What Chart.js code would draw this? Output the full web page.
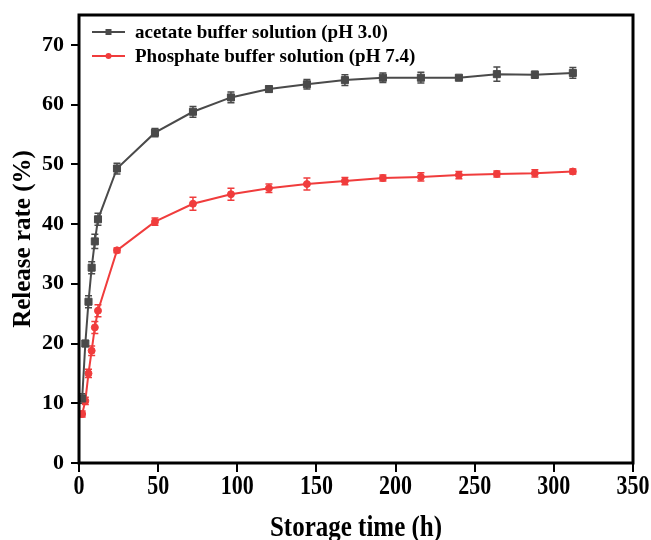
<!DOCTYPE html>
<html>
<head>
<meta charset="utf-8">
<script src="https://cdn.jsdelivr.net/npm/chart.js@4"></script>
<style>
  html, body { margin: 0; padding: 0; background: #fff; }
  #wrap { width: 651px; height: 540px; }
</style>
</head>
<body>
<div id="wrap"><canvas id="myChart" width="651" height="540"></canvas></div>
<script>
const times = [2, 4, 6, 8, 10, 12, 24, 48, 72, 96, 120, 144, 168, 192, 216, 240, 264, 288, 312];
const acetate = [10.8, 20.0, 27.0, 32.7, 37.1, 40.8, 49.3, 55.3, 58.8, 61.2, 62.6, 63.4, 64.1, 64.5, 64.5, 64.5, 65.1, 65.0, 65.3];
const acetateErr = [0.8, 0.5, 1.0, 1.0, 1.2, 1.0, 0.9, 0.7, 0.9, 0.9, 0.5, 0.8, 0.9, 0.8, 0.9, 0.3, 1.2, 0.6, 0.9];
const phosphate = [8.2, 10.4, 15.0, 18.8, 22.7, 25.5, 35.6, 40.4, 43.4, 45.0, 46.0, 46.7, 47.2, 47.7, 47.9, 48.2, 48.4, 48.5, 48.8];
const phosphateErr = [0.5, 0.6, 0.7, 0.8, 1.0, 1.0, 0.4, 0.6, 1.1, 1.0, 0.7, 1.0, 0.6, 0.5, 0.7, 0.6, 0.5, 0.6, 0.4];
const seriesNames = ['acetate buffer solution (pH 3.0)', 'Phosphate buffer solution (pH 7.4)'];
const xTicks = [0, 50, 100, 150, 200, 250, 300, 350];
const yTicks = [0, 10, 20, 30, 40, 50, 60, 70];
const xTitle = 'Storage time (h)';
const yTitle = 'Release rate (%)';

const black = '#4a4a4a';
const red = '#f03c3c';
const font = 'Liberation Serif';

function pts(ys) { return times.map((t, i) => ({ x: t, y: ys[i] })); }

// error bars, frame, legend and the (tall) x axis text
const extras = {
  id: 'extras',
  beforeDatasetsDraw(chart) {
    const ctx = chart.ctx, xs = chart.scales.x, ys = chart.scales.y;
    const sets = [[acetate, acetateErr, black], [phosphate, phosphateErr, red]];
    ctx.save();
    ctx.lineWidth = 1.5;
    sets.forEach(([vals, errs, col]) => {
      ctx.strokeStyle = col;
      vals.forEach((v, i) => {
        const px = xs.getPixelForValue(times[i]);
        const top = ys.getPixelForValue(v + errs[i]);
        const bot = ys.getPixelForValue(v - errs[i]);
        ctx.beginPath();
        ctx.moveTo(px, top); ctx.lineTo(px, bot);
        ctx.moveTo(px - 3.5, top); ctx.lineTo(px + 3.5, top);
        ctx.moveTo(px - 3.5, bot); ctx.lineTo(px + 3.5, bot);
        ctx.stroke();
      });
    });
    ctx.restore();
  },
  afterDraw(chart) {
    const ctx = chart.ctx, a = chart.chartArea, xs = chart.scales.x;
    ctx.save();
    ctx.strokeStyle = '#000';
    ctx.lineWidth = 3;
    ctx.strokeRect(a.left, a.top, a.right - a.left, a.bottom - a.top);

    // x tick labels + title, a bit taller than wide like the original
    ctx.fillStyle = '#000';
    ctx.textAlign = 'center';
    ctx.textBaseline = 'middle';
    ctx.font = 'bold 22px "' + font + '"';
    xTicks.forEach(v => {
      ctx.save();
      ctx.translate(xs.getPixelForValue(v), 487);
      ctx.scale(1, 1.25);
      ctx.fillText(String(v), 0, 0);
      ctx.restore();
    });
    ctx.font = 'bold 25px "' + font + '"';
    ctx.save();
    ctx.translate((a.left + a.right) / 2, 528);
    ctx.scale(1, 1.2);
    ctx.fillText(xTitle, 0, 0);
    ctx.restore();

    // legend
    const items = [[seriesNames[0], black, 'rect'], [seriesNames[1], red, 'circle']];
    ctx.font = 'bold 19px "' + font + '"';
    ctx.textAlign = 'left';
    items.forEach(([label, col, shape], i) => {
      const y = 32 + i * 24;
      ctx.strokeStyle = col;
      ctx.fillStyle = col;
      ctx.lineWidth = 2;
      ctx.beginPath();
      ctx.moveTo(92, y); ctx.lineTo(125, y);
      ctx.stroke();
      if (shape === 'rect') ctx.fillRect(105.5, y - 3, 6, 6);
      else { ctx.beginPath(); ctx.arc(108.5, y, 3, 0, Math.PI * 2); ctx.fill(); }
      ctx.fillStyle = '#000';
      ctx.fillText(label, 135, y + 1);
    });
    ctx.restore();
  }
};

const myChart = document.getElementById('myChart').getContext('2d');
const newChart = new Chart(myChart, {
  type: 'line',
  data: {
    datasets: [{
      label: seriesNames[0],
      data: pts(acetate),
      borderColor: black,
      backgroundColor: black,
      borderWidth: 2,
      pointStyle: 'rect',
      pointRadius: 5,
      pointBorderWidth: 1
    }, {
      label: seriesNames[1],
      data: pts(phosphate),
      borderColor: red,
      backgroundColor: red,
      borderWidth: 2,
      pointStyle: 'circle',
      pointRadius: 3.5,
      pointBorderWidth: 1
    }]
  },
  options: {
    responsive: false,
    animation: false,
    layout: { padding: { top: 15, right: 18, left: 0, bottom: 0 } },
    plugins: { legend: { display: false }, tooltip: { enabled: false } },
    scales: {
      x: {
        type: 'linear',
        min: 0, max: 350,
        afterBuildTicks: s => { s.ticks = xTicks.map(v => ({ value: v })); },
        afterFit: s => { s.height = 77; s.paddingLeft = 0; s.paddingRight = 0; },
        grid: { drawOnChartArea: false, drawTicks: true, tickLength: 9, color: '#000', lineWidth: 2 },
        border: { display: false },
        ticks: { display: false },
        title: { display: false }
      },
      y: {
        type: 'linear',
        min: 0, max: 75,
        afterBuildTicks: s => { s.ticks = yTicks.map(v => ({ value: v })); },
        afterFit: s => { s.width = 79; s.paddingTop = 0; s.paddingBottom = 0; },
        grid: { drawOnChartArea: false, drawTicks: true, tickLength: 8, color: '#000', lineWidth: 2 },
        border: { display: false },
        ticks: { color: '#000', font: { family: font, weight: 'bold', size: 22 }, padding: 7 },
        title: { display: true, text: yTitle, color: '#000', font: { family: font, weight: 'bold', size: 25 }, padding: { top: 9, bottom: 0 } }
      }
    }
  },
  plugins: [extras]
});
</script>
</body>
</html>
